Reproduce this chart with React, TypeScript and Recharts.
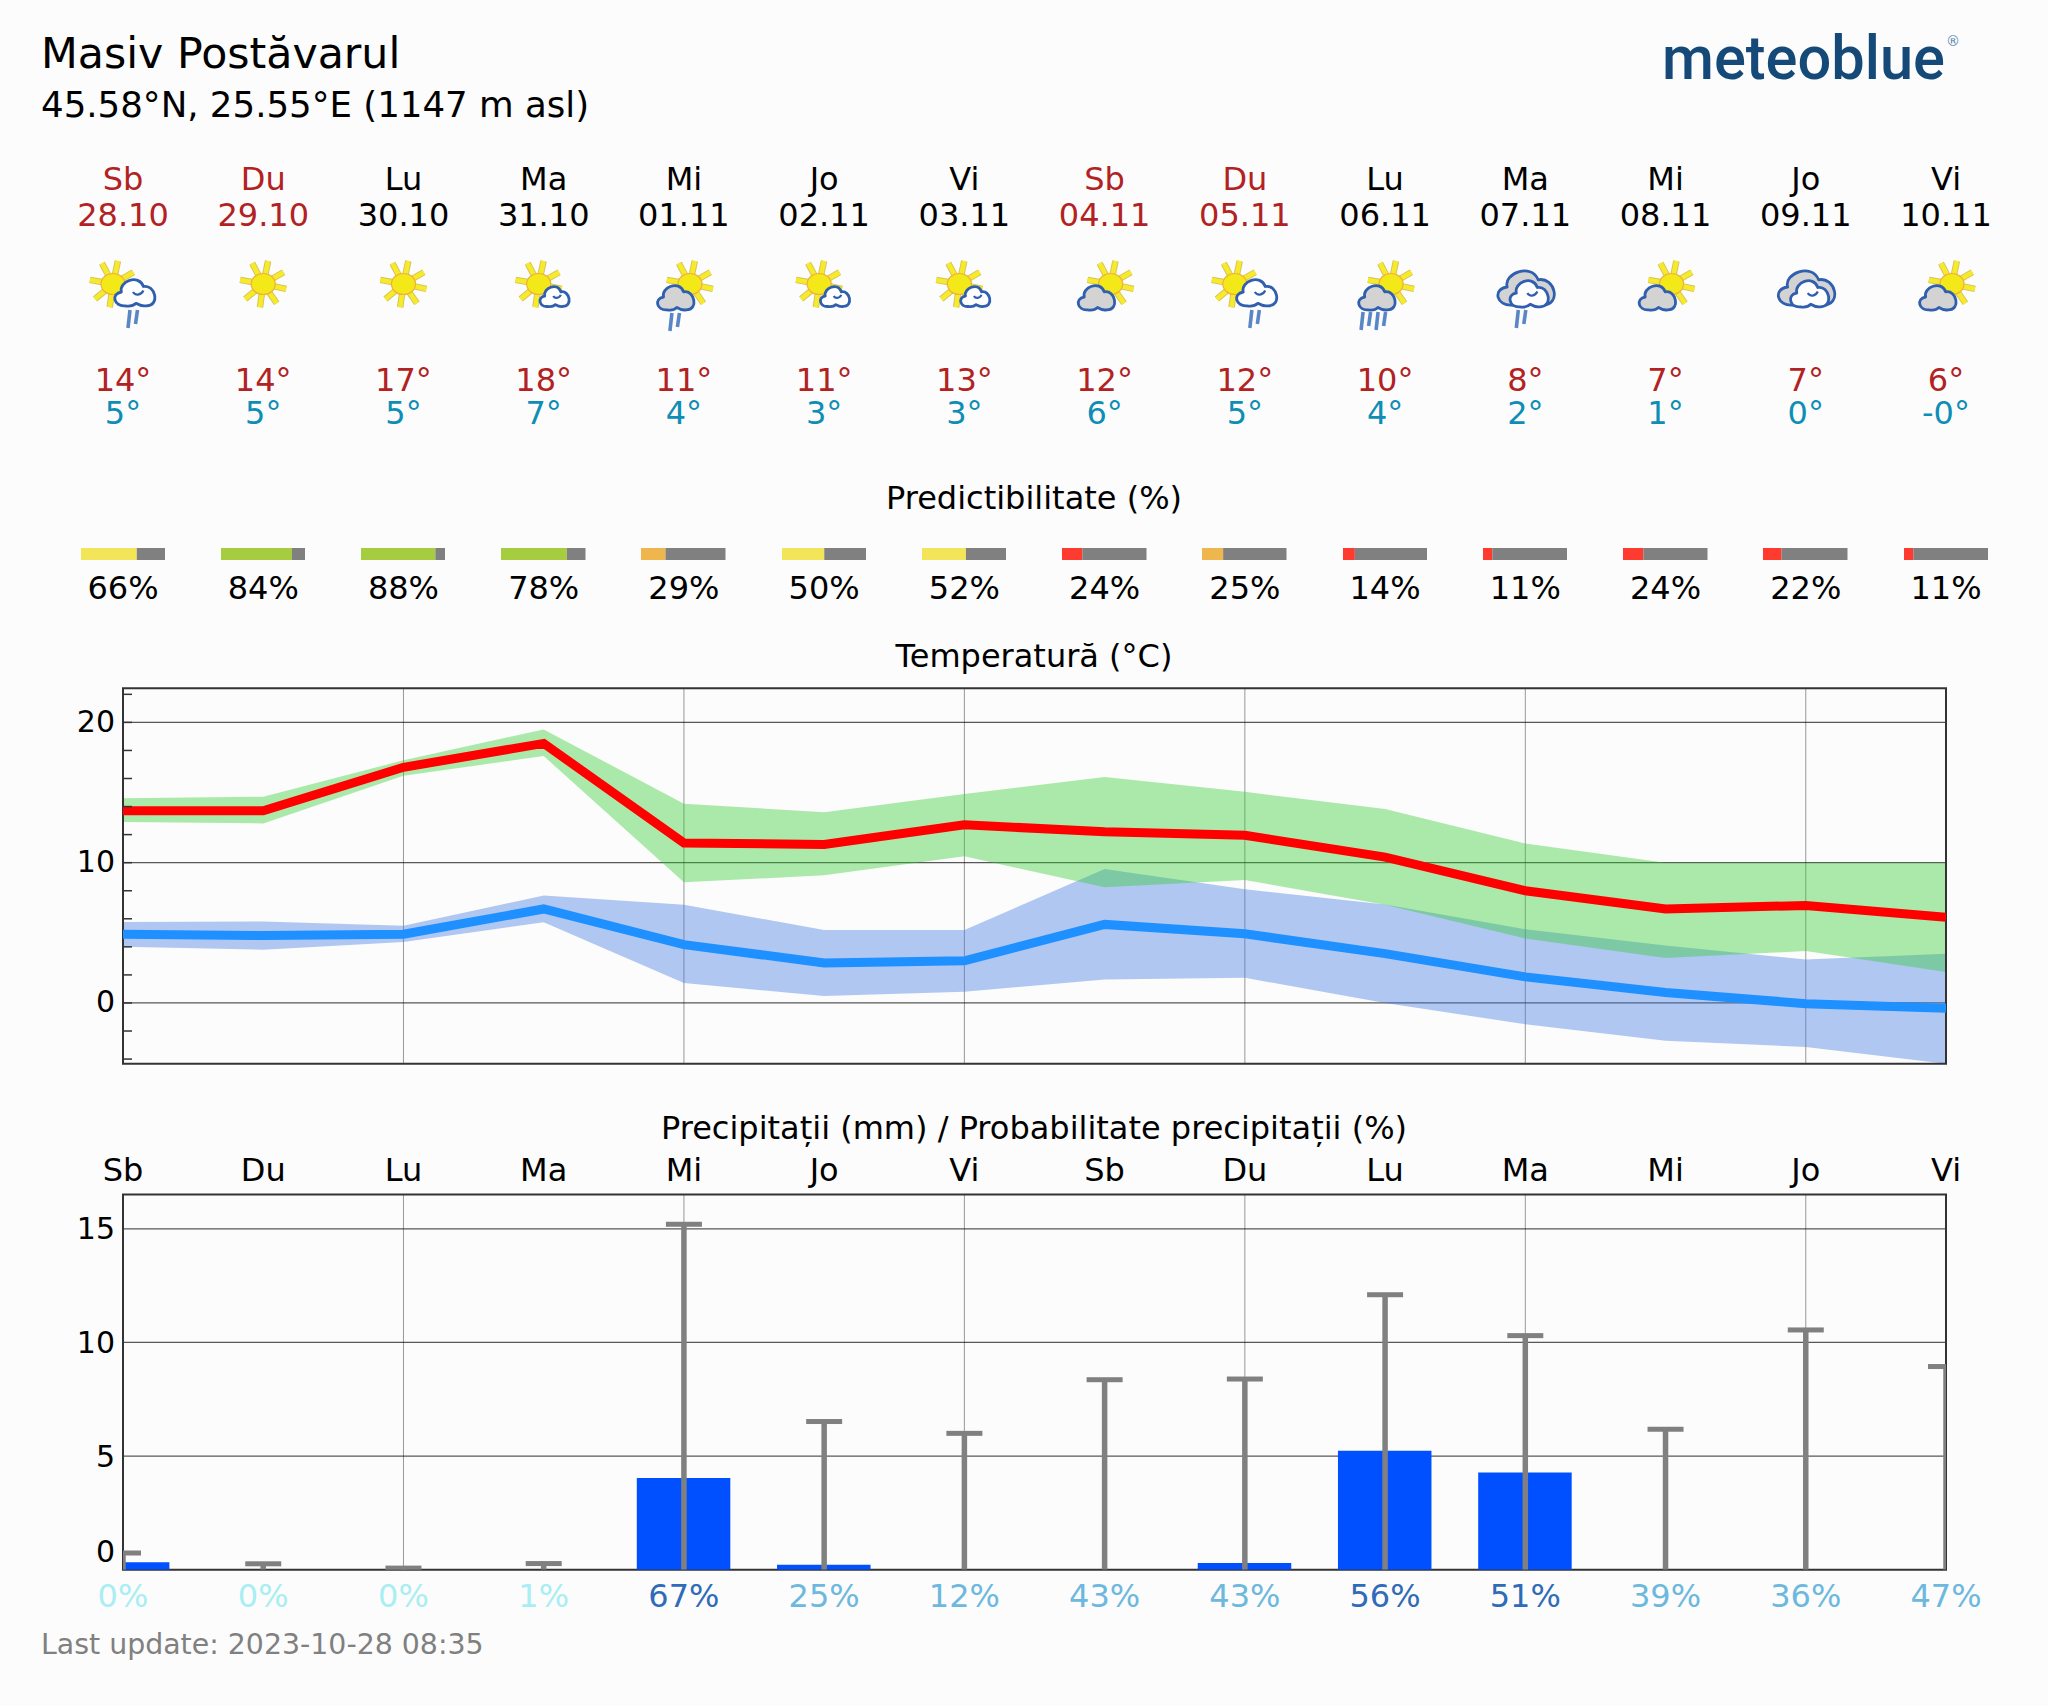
import React from 'react';
import { ComposedChart, BarChart, Bar, Area, Line, XAxis, YAxis, CartesianGrid, ReferenceArea, Cell } from 'recharts';

const dayNames = ['Sb','Du','Lu','Ma','Mi','Jo','Vi','Sb','Du','Lu','Ma','Mi','Jo','Vi'];
const dates = ['28.10','29.10','30.10','31.10','01.11','02.11','03.11','04.11','05.11','06.11','07.11','08.11','09.11','10.11'];
const weekend = [true,true,false,false,false,false,false,true,true,false,false,false,false,false];
const hiLabels = ['14°','14°','17°','18°','11°','11°','13°','12°','12°','10°','8°','7°','7°','6°'];
const loLabels = ['5°','5°','5°','7°','4°','3°','3°','6°','5°','4°','2°','1°','0°','-0°'];
const iconKinds = ['sunCloudRain','sun','sun','sunSmall','grayRain','sunSmall','sunSmall','gray','sunCloudRain','grayHeavy','doubleRain','gray','double','gray'];
const predictability = [66,84,88,78,29,50,52,24,25,14,11,24,22,11];
const predictColors = ['#F3E55A','#A6CC3F','#A6CC3F','#A6CC3F','#F0B64E','#F3E55A','#F3E55A','#FF3B30','#F0B64E','#FF3B30','#FF3B30','#FF3B30','#FF3B30','#FF3B30'];

const tempMax = [13.7,13.7,16.8,18.5,11.4,11.3,12.7,12.2,11.95,10.4,8.0,6.7,6.95,6.1];
const tempMaxUpper = [14.6,14.7,17.3,19.5,14.2,13.6,14.9,16.1,15.05,13.83,11.36,10.0,10.0,10.0];
const tempMaxLower = [12.9,12.8,16.2,17.6,8.6,9.1,10.45,8.24,8.76,7.0,4.6,3.2,3.7,2.2];
const tempMin = [4.9,4.8,4.9,6.7,4.16,2.85,3.0,5.6,4.93,3.52,1.86,0.74,-0.05,-0.38];
const tempMinUpper = [5.77,5.8,5.5,7.66,7.0,5.2,5.2,9.55,8.1,7.02,5.26,4.1,3.1,3.5];
const tempMinLower = [4.0,3.8,4.35,5.75,1.42,0.5,0.8,1.67,1.79,0.0,-1.52,-2.7,-3.14,-4.33];

const precipitation = [0.33,0,0,0,4.03,0.22,0,0,0.29,5.23,4.28,0,0,0];
const precipUpper = [0.735,0.26,0.07,0.27,15.2,6.52,6.0,8.36,8.39,12.1,10.3,6.18,10.55,8.94];
const probability = [0,0,0,1,67,25,12,43,43,56,51,39,36,47];
const probColors = ['#A8EEF2','#A8EEF2','#A8EEF2','#A8EEF2','#2F6BB8','#6CB8DE','#6CB8DE','#6CB8DE','#6CB8DE','#2F6BB8','#2F6BB8','#6CB8DE','#6CB8DE','#6CB8DE'];

const gridDays = [2,4,6,8,10,12];
const tempTicks = [22,20,18,16,14,12,10,8,6,4,2,0,-2,-4];
const tempMajor = [20,10,0];
const tempDomain = [-4.33, 22.43];
const precipDomain = [0, 16.51];
const precipTicks = [0,5,10,15];
const precipGrid = [5,10,15];
const allDays = dayNames.map((_, i) => i);

const tempData = allDays.map(i => ({
  day: i,
  tMax: tempMax[i],
  tMin: tempMin[i],
  green: [tempMaxLower[i], tempMaxUpper[i]],
  blue: [tempMinLower[i], tempMinUpper[i]],
}));
const precipData = allDays.map(i => ({ day: i, rain: precipitation[i], upper: precipUpper[i] }));

const FONT = '"DejaVu Sans", sans-serif';
const L = 123, R = 1946, STEP = (R - L) / 13;
const PW = 2048 - R;
const dayX = (i: number) => L + STEP * i;

function T({ x, y, size = 32, fill = '#000', anchor = 'middle', children }: any) {
  return <text x={x} y={y} fontSize={size} fill={fill} textAnchor={anchor} fontFamily={FONT} dominantBaseline="central">{children}</text>;
}

const CLOUD = 'M-0.5,0.95 C-1.05,1.02 -1.22,0.12 -0.68,0.0 C-0.82,-0.72 0.18,-1.28 0.42,-0.38 C1.02,-0.55 1.28,0.98 0.55,0.95 C0.38,1.0 0.2,0.9 0.05,0.78 C-0.1,0.98 -0.3,1.0 -0.5,0.95 Z';
function Cloud({ cx, cy, w, h, fill }: any) {
  return (
    <g transform={`translate(${cx} ${cy}) scale(${w / 2.2} ${h / 2})`}>
      <path d={CLOUD} fill={fill} stroke="#2F5FAE" strokeWidth={2.8} vectorEffect="non-scaling-stroke" strokeLinejoin="round" />
      {fill === '#FFFFFF' && <path d="M-0.1,0.0 C0.0,0.25 0.3,0.25 0.42,-0.1" fill="none" stroke="#2F5FAE" strokeWidth={2.2} vectorEffect="non-scaling-stroke" />}
    </g>
  );
}
const RAY_ANGLES = [-118,-78,-30,12,55,98,140,190];
function Sun({ cx, cy }: any) {
  return (
    <g>
      {RAY_ANGLES.map(a => {
        const r = a * Math.PI / 180;
        const x1 = cx + Math.cos(r) * 10, y1 = cy + Math.sin(r) * 10;
        const x2 = cx + Math.cos(r) * 23.5, y2 = cy + Math.sin(r) * 23.5;
        return (
          <g key={a}>
            <line x1={x1} y1={y1} x2={x2} y2={y2} stroke="#D2C45C" strokeWidth={6.5} />
            <line x1={x1} y1={y1} x2={x2} y2={y2} stroke="#F7EA2A" strokeWidth={4.6} />
          </g>
        );
      })}
      <ellipse cx={cx} cy={cy} rx={12} ry={10.5} fill="#F3E818" stroke="#F0B040" strokeWidth={1.2} />
    </g>
  );
}
function Rain({ x, y, n = 2 }: any) {
  const items = [];
  for (let k = 0; k < n; k++) {
    const len = k % 2 === 0 ? 18 : 14;
    items.push(<line key={k} x1={x + k * 7.5 + 2} y1={y} x2={x + k * 7.5} y2={y + len} stroke="#5B86C6" strokeWidth={3.6} />);
  }
  return <g>{items}</g>;
}
function Icon({ kind, x }: any) {
  switch (kind) {
    case 'sun': return <Sun cx={x} cy={284} />;
    case 'sunSmall': return <g><Sun cx={x - 5} cy={284} /><Cloud cx={x + 11} cy={296} w={32} h={22} fill="#FFFFFF" /></g>;
    case 'sunCloudRain': return <g><Sun cx={x - 10} cy={284} /><Cloud cx={x + 12} cy={292} w={44} h={29} fill="#FFFFFF" /><Rain x={x + 5} y={310} /></g>;
    case 'gray': return <g><Sun cx={x + 6} cy={284} /><Cloud cx={x - 8} cy={297} w={40} h={27} fill="#D3D3D3" /></g>;
    case 'grayRain': return <g><Sun cx={x + 6} cy={284} /><Cloud cx={x - 8} cy={297} w={40} h={27} fill="#D3D3D3" /><Rain x={x - 14} y={313} /></g>;
    case 'grayHeavy': return <g><Sun cx={x + 6} cy={284} /><Cloud cx={x - 8} cy={297} w={40} h={27} fill="#D3D3D3" /><Rain x={x - 24} y={312} n={4} /></g>;
    case 'double': return <g><Cloud cx={x + 1} cy={287} w={62} h={38} fill="#D3D3D3" /><Cloud cx={x + 4} cy={293} w={42} h={29} fill="#FFFFFF" /></g>;
    default: return <g><Cloud cx={x + 1} cy={287} w={62} h={38} fill="#D3D3D3" /><Cloud cx={x + 4} cy={293} w={42} h={29} fill="#FFFFFF" /><Rain x={x - 9} y={310} /></g>;
  }
}

function NoTick() {
  return <g />;
}
function TempTick({ y, payload }: any) {
  const v = payload.value;
  return (
    <g>
      <line x1={L} x2={L + 9} y1={y} y2={y} stroke="#333" strokeWidth={1.5} />
      {tempMajor.includes(v) && <T x={115} y={y - 1} size={30} anchor="end">{v}</T>}
    </g>
  );
}
function PrecipTick({ y, payload }: any) {
  const v = payload.value;
  return <T x={115} y={v === 0 ? y - 18 : y} size={30} anchor="end">{v}</T>;
}
function DayTick({ x, payload }: any) {
  return <T x={x} y={30} size={32}>{dayNames[payload.value]}</T>;
}
function ProbTick({ x, payload }: any) {
  return <T x={x} y={456} size={32} fill={probColors[payload.value]}>{`${probability[payload.value]}%`}</T>;
}
function Whisker({ cx, cy, index }: any) {
  const bottom = 429.7;
  const capL = Math.max(cx - 18, L), capR = Math.min(cx + 18, R);
  const stemL = Math.max(cx - 2.75, L), stemR = Math.min(cx + 2.75, R);
  return (
    <g key={index}>
      <rect x={stemL} y={cy} width={stemR - stemL} height={Math.max(bottom - cy, 0)} fill="#808080" />
      <rect x={capL} y={cy - 2.5} width={capR - capL} height={5} fill="#808080" />
    </g>
  );
}

function Header() {
  return (
    <svg width={2048} height={1706} style={{ position: 'absolute', left: 0, top: 0 }}>
      <T x={41} y={53} size={42.7} anchor="start">Masiv Postăvarul</T>
      <T x={41} y={104} size={35.6} anchor="start">45.58°N, 25.55°E (1147 m asl)</T>
      <text x={1662} y={79} fontSize={62} fontWeight={500} fontFamily="Roboto" fill="#154A78" textLength={283} lengthAdjust="spacingAndGlyphs">meteoblue</text>
      <text x={1946} y={46} fontSize={14} textAnchor="start" fontFamily={FONT} fill="#5A87AE">®</text>
      {allDays.map(i => (
        <g key={i}>
          <T x={dayX(i)} y={179} fill={weekend[i] ? '#B22222' : '#000'}>{dayNames[i]}</T>
          <T x={dayX(i)} y={215} fill={weekend[i] ? '#B22222' : '#000'}>{dates[i]}</T>
          <Icon kind={iconKinds[i]} x={dayX(i)} />
          <T x={dayX(i)} y={380} fill="#B22222">{hiLabels[i]}</T>
          <T x={dayX(i)} y={413} fill="#0E8DB5">{loLabels[i]}</T>
          <T x={dayX(i)} y={588}>{predictability[i]}%</T>
        </g>
      ))}
      <T x={1034} y={498}>Predictibilitate (%)</T>
      <T x={1034} y={656}>Temperatură (°C)</T>
      <T x={1034} y={1128}>Precipitații (mm) / Probabilitate precipitații (%)</T>
      <T x={41} y={1644} size={28.4} fill="#808080" anchor="start">Last update: 2023-10-28 08:35</T>
    </svg>
  );
}

function PredictBar({ i }: { i: number }) {
  const row = [{ name: dayNames[i], good: predictability[i], rest: 100 - predictability[i] }];
  return (
    <div style={{ position: 'absolute', left: dayX(i) - 42.5, top: 548 }}>
      <BarChart width={84.5} height={12} data={row} layout="vertical" margin={{ top: 0, right: 0, bottom: 0, left: 0 }} barCategoryGap={0}>
        <XAxis type="number" domain={[0, 100]} hide />
        <YAxis type="category" dataKey="name" hide />
        <Bar dataKey="good" stackId="p" isAnimationActive={false}>
          <Cell fill={predictColors[i]} />
        </Bar>
        <Bar dataKey="rest" stackId="p" fill="#808080" isAnimationActive={false} />
      </BarChart>
    </div>
  );
}

function TempChart() {
  return (
    <div style={{ position: 'absolute', left: 0, top: 680 }}>
      <ComposedChart width={2048} height={400} data={tempData} margin={{ top: 8.3, right: PW, bottom: 16.3, left: 0 }}>
        <XAxis dataKey="day" type="number" domain={[0, 13]} allowDataOverflow ticks={gridDays} interval={0} tick={<NoTick />} tickLine={false} axisLine={false} height={0} />
        <YAxis type="number" domain={tempDomain} allowDataOverflow ticks={tempTicks} width={L} tick={<TempTick />} tickLine={false} axisLine={false} interval={0} />
        <CartesianGrid horizontal={false} vertical verticalValues={gridDays} stroke="#000" strokeOpacity={0.4} strokeWidth={1} />
        <CartesianGrid vertical={false} horizontal horizontalValues={tempMajor} stroke="#000" strokeOpacity={0.65} strokeWidth={1.2} />
        <Area dataKey="blue" stroke="none" fill="#3F78E4" fillOpacity={0.4} isAnimationActive={false} dot={false} activeDot={false} />
        <Area dataKey="green" stroke="none" fill="#32CD32" fillOpacity={0.4} isAnimationActive={false} dot={false} activeDot={false} />
        <Line dataKey="tMin" stroke="#1E90FF" strokeWidth={9} dot={false} activeDot={false} isAnimationActive={false} strokeLinejoin="miter" />
        <Line dataKey="tMax" stroke="#FF0000" strokeWidth={9} dot={false} activeDot={false} isAnimationActive={false} strokeLinejoin="miter" />
        <ReferenceArea x1={0} x2={13} y1={tempDomain[0]} y2={tempDomain[1]} fill="none" stroke="#333" strokeWidth={2} />
      </ComposedChart>
    </div>
  );
}

function PrecipChart() {
  return (
    <div style={{ position: 'absolute', left: 0, top: 1140 }}>
      <ComposedChart width={2048} height={500} data={precipData} margin={{ top: 0, right: PW, bottom: 0, left: 0 }}>
        <XAxis xAxisId="top" orientation="top" dataKey="day" type="number" domain={[0, 13]} allowDataOverflow ticks={allDays} interval={0} tick={<DayTick />} tickLine={false} axisLine={false} height={54.5} />
        <XAxis xAxisId="bottom" orientation="bottom" dataKey="day" type="number" domain={[0, 13]} allowDataOverflow ticks={allDays} interval={0} tick={<ProbTick />} tickLine={false} axisLine={false} height={70.3} />
        <YAxis type="number" domain={precipDomain} allowDataOverflow ticks={precipTicks} width={L} tick={<PrecipTick />} tickLine={false} axisLine={false} interval={0} />
        <CartesianGrid xAxisId="top" horizontal={false} vertical verticalValues={gridDays} stroke="#000" strokeOpacity={0.4} strokeWidth={1} />
        <CartesianGrid xAxisId="top" vertical={false} horizontal horizontalValues={precipGrid} stroke="#000" strokeOpacity={0.65} strokeWidth={1.2} />
        <Bar xAxisId="top" dataKey="rain" fill="#0050FF" barSize={93.5} isAnimationActive={false} />
        <Line xAxisId="top" dataKey="upper" stroke="none" dot={<Whisker />} activeDot={false} isAnimationActive={false} />
        <ReferenceArea xAxisId="top" x1={0} x2={13} y1={precipDomain[0]} y2={precipDomain[1]} fill="none" stroke="#333" strokeWidth={2} />
      </ComposedChart>
    </div>
  );
}

export default function App() {
  return (
    <div style={{ position: 'absolute', left: 0, top: 0, width: 2048, height: 1706, background: '#FCFCFC', overflow: 'hidden' }}>
      <Header />
      {allDays.map(i => <PredictBar key={i} i={i} />)}
      <TempChart />
      <PrecipChart />
    </div>
  );
}
